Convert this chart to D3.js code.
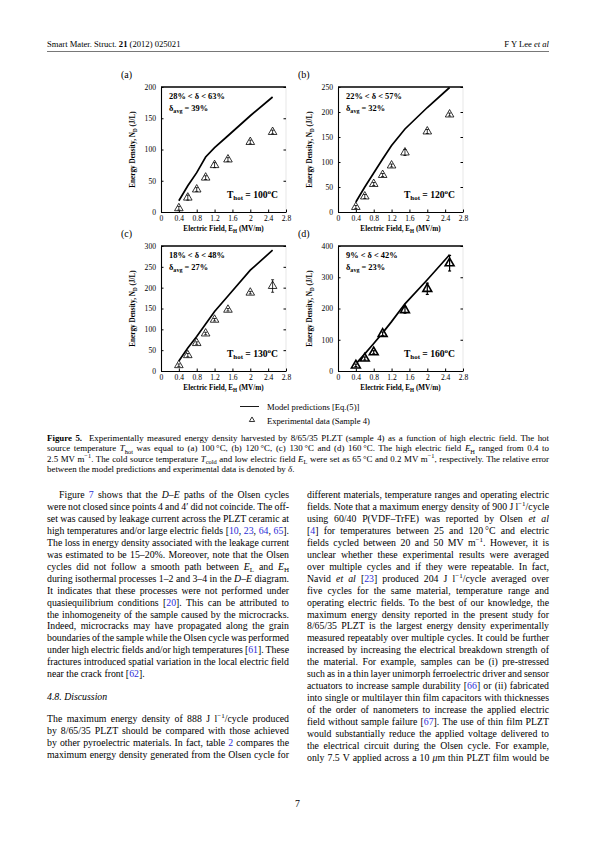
<!DOCTYPE html>
<html>
<head>
<meta charset="utf-8">
<script src="https://cdn.jsdelivr.net/npm/d3@7"></script>
<style>
  html, body { margin: 0; padding: 0; background: #fff; }
  svg { display: block; }
  text { font-family: "Liberation Serif", "Times New Roman", serif; fill: #000; white-space: pre; }
  .axis path, .axis line { stroke: #000; }
</style>
</head>
<body>
<svg width="595" height="842"></svg>
<script>
// electric field values (MV/m) at which the data were taken
var fieldE = [0.4, 0.6, 0.8, 1.0, 1.2, 1.5, 2.0, 2.5];

// model predictions, one array per panel (J/L)
var modelA = [18, 42, 63, 88, 103, 122, 154, 184];
var modelB = [20, 50, 78, 106, 133, 166, 209, 249];
var modelC = [24, 55, 83, 113, 143, 180, 242, 290];
var modelD = [23, 55, 88, 122, 158, 215, 292, 372];

// experimental data (sample 4) and error bars
var expA = [6, 23, 36, 55, 75, 84, 112, 128];
var expB = [10, 31, 56, 74, 93, 119, 161, 195];
var expC = [14, 38, 67, 90, 123, 147, 188, 204];
var expD = [18, 40, 60, 119, null, 195, 263, 345];
var errA = [3, 4, 3, 3, 4, 3, 3, 3];
var errB = [3, 4, 3, 3, 3, 6, 4, 3];
var errC = [3, 4, 3, 3, 3, 3, 3, 15];
var errD = [4, 5, 5, 6, null, 10, 18, 25];

// per panel labels
var panelNames = ["(a)", "(b)", "(c)", "(d)"];
var yMax = [200, 250, 300, 400];
var yStep = [50, 50, 50, 100];
var tHot = [100, 120, 130, 160];
var deltaMin = [28, 22, 18, 9];
var deltaMax = [63, 57, 48, 42];
var deltaAvg = [39, 32, 27, 23];
var xTicks = [0, 0.4, 0.8, 1.2, 1.6, 2, 2.4, 2.8];
var xTickLabels = ["0", "0.4", "0.8", "1.2", "1.6", "2", "2.4", "2.8"];

var models = [modelA, modelB, modelC, modelD];
var exps = [expA, expB, expC, expD];
var errs = [errA, errB, errC, errD];

// page text
var headerLeft = "Smart Mater. Struct. <b>21</b> (2012) 025021";
var headerRight = "F Y Lee <i>et al</i>";

var captionLines = [
  "<b>Figure 5.</b>  Experimentally measured energy density harvested by 8/65/35 PLZT (sample 4) as a function of high electric field. The hot",
  "source temperature <i>T</i><sub>hot</sub> was equal to (a) 100\u2009°C, (b) 120\u2009°C, (c) 130\u2009°C and (d) 160\u2009°C. The high electric field <i>E</i><sub>H</sub> ranged from 0.4 to",
  "2.5 MV m<sup>−1</sup>. The cold source temperature <i>T</i><sub>cold</sub> and low electric field <i>E</i><sub>L</sub> were set as 65\u2009°C and 0.2 MV m<sup>−1</sup>, respectively. The relative error",
  "between the model predictions and experimental data is denoted by <i>δ</i>."
];

var leftCol = [
  "Figure <c>7</c> shows that the <i>D</i>–<i>E</i> paths of the Olsen cycles",
  "were not closed since points 4 and 4′ did not coincide. The off-",
  "set was caused by leakage current across the PLZT ceramic at",
  "high temperatures and/or large electric fields [<c>10</c>, <c>23</c>, <c>64</c>, <c>65</c>].",
  "The loss in energy density associated with the leakage current",
  "was estimated to be 15–20%. Moreover, note that the Olsen",
  "cycles did not follow a smooth path between <i>E</i><sub>L</sub> and <i>E</i><sub>H</sub>",
  "during isothermal processes 1–2 and 3–4 in the <i>D</i>–<i>E</i> diagram.",
  "It indicates that these processes were not performed under",
  "quasiequilibrium conditions [<c>20</c>]. This can be attributed to",
  "the inhomogeneity of the sample caused by the microcracks.",
  "Indeed, microcracks may have propagated along the grain",
  "boundaries of the sample while the Olsen cycle was performed",
  "under high electric fields and/or high temperatures [<c>61</c>]. These",
  "fractures introduced spatial variation in the local electric field",
  "near the crack front [<c>62</c>]."
];
var heading = "<i>4.8. Discussion</i>";
var leftCol2 = [
  "The maximum energy density of 888 J l<sup>−1</sup>/cycle produced",
  "by 8/65/35 PLZT should be compared with those achieved",
  "by other pyroelectric materials. In fact, table <c>2</c> compares the",
  "maximum energy density generated from the Olsen cycle for"
];
var rightCol = [
  "different materials, temperature ranges and operating electric",
  "fields. Note that a maximum energy density of 900 J\u2009l<sup>−1</sup>/cycle",
  "using 60/40 P(VDF–TrFE) was reported by Olsen <i>et al</i>",
  "[<c>4</c>] for temperatures between 25 and 120\u2009°C and electric",
  "fields cycled between 20 and 50 MV m<sup>−1</sup>. However, it is",
  "unclear whether these experimental results were averaged",
  "over multiple cycles and if they were repeatable. In fact,",
  "Navid <i>et al</i> [<c>23</c>] produced 204 J l<sup>−1</sup>/cycle averaged over",
  "five cycles for the same material, temperature range and",
  "operating electric fields. To the best of our knowledge, the",
  "maximum energy density reported in the present study for",
  "8/65/35 PLZT is the largest energy density experimentally",
  "measured repeatably over multiple cycles. It could be further",
  "increased by increasing the electrical breakdown strength of",
  "the material. For example, samples can be (i) pre-stressed",
  "such as in a thin layer unimorph ferroelectric driver and sensor",
  "actuators to increase sample durability [<c>66</c>] or (ii) fabricated",
  "into single or multilayer thin film capacitors with thicknesses",
  "of the order of nanometers to increase the applied electric",
  "field without sample failure [<c>67</c>]. The use of thin film PLZT",
  "would substantially reduce the applied voltage delivered to",
  "the electrical circuit during the Olsen cycle. For example,",
  "only 7.5 V applied across a 10 <i>μ</i>m thin PLZT film would be"
];

// layout
var marginL = 47, marginR = 549;
var colW = 242, colR = marginR - colW;
var lineH = 11.95;
var panelW = 125, panelH = 125;
var panelPos = [[161, 87], [338, 87], [161, 246], [338, 246]];

var svg = d3.select("svg");
svg.append("rect").attr("width", 595).attr("height", 842).attr("fill", "#fff");

// writes a string with tiny markup into a text element as tspans
function rich(textSel, str, size) {
  var parts = str.split(/(<\/?(?:i|b|c|sup|sub)>)/);
  var st = { i: 0, b: 0, c: 0, sup: 0, sub: 0 };
  var off = 0;
  parts.forEach(function(p) {
    if (!p) return;
    var m = p.match(/^<(\/?)(i|b|c|sup|sub)>$/);
    if (m) { st[m[2]] += m[1] ? -1 : 1; return; }
    var target = st.sup ? -size * 0.4 : st.sub ? size * 0.25 : 0;
    textSel.append("tspan")
      .attr("dy", target - off)
      .attr("font-size", (st.sup || st.sub) ? size * 0.72 : size)
      .attr("font-style", st.i ? "italic" : null)
      .attr("font-weight", st.b ? "bold" : null)
      .attr("fill", st.c ? "#2b2bd6" : null)
      .text(p);
    off = target;
  });
  return textSel;
}

function justify(textSel, width) {
  var n = textSel.node();
  var len = n.getComputedTextLength();
  var spaces = (n.textContent.match(/ /g) || []).length;
  if (spaces) textSel.style("word-spacing", ((width - len) / spaces) + "px");
}

function textLine(x, y, str, size, width, anchor) {
  var t = svg.append("text").attr("x", x).attr("y", y).attr("font-size", size);
  if (anchor) t.attr("text-anchor", anchor);
  rich(t, str, size);
  if (width) justify(t, width);
  return t;
}

// header
textLine(marginL, 47, headerLeft, 8.6);
textLine(marginR, 47, headerRight, 8.6, null, "end");
svg.append("line").attr("x1", marginL).attr("x2", marginR)
  .attr("y1", 51.5).attr("y2", 51.5).attr("stroke", "#555").attr("stroke-width", 0.8);

// panels
panelPos.forEach(function(pos, k) {
  var g = svg.append("g").attr("transform", "translate(" + pos[0] + "," + pos[1] + ")");
  var x = d3.scaleLinear().domain([0, 2.8]).range([0, panelW]);
  var y = d3.scaleLinear().domain([0, yMax[k]]).range([panelH, 0]);
  var yTicks = d3.range(0, yMax[k] + 1, yStep[k]);

  // frame: top line and faint right side
  g.append("line").attr("x1", 0).attr("x2", panelW).attr("y1", 0).attr("y2", 0)
    .attr("stroke", "#000").attr("stroke-width", 1.6);
  g.append("line").attr("x1", panelW).attr("x2", panelW).attr("y1", 0).attr("y2", panelH)
    .attr("stroke", "#ccc").attr("stroke-width", 0.5);

  var ax = g.append("g").attr("class", "axis").attr("transform", "translate(0," + panelH + ")")
    .call(d3.axisBottom(x).tickValues(xTicks).tickFormat(function(d, i) { return xTickLabels[i]; })
      .tickSizeInner(-2.5).tickSizeOuter(0).tickPadding(4));
  var ay = g.append("g").attr("class", "axis")
    .call(d3.axisLeft(y).tickValues(yTicks).tickSizeInner(-2.5).tickSizeOuter(0).tickPadding(5));
  g.append("g").attr("class", "axis").attr("transform", "translate(" + panelW + ",0)")
    .call(d3.axisRight(y).tickValues(yTicks).tickFormat("").tickSizeInner(-2.5).tickSizeOuter(0))
    .select(".domain").remove();
  [ax, ay].forEach(function(a) {
    a.selectAll("text").attr("font-size", 7.6).attr("font-family", "Liberation Serif");
    a.select(".domain").attr("stroke-width", 1.1);
  });

  // model line
  g.append("path")
    .datum(fieldE.map(function(e, i) { return [e, models[k][i]]; }))
    .attr("fill", "none").attr("stroke", "#000").attr("stroke-width", 1.7)
    .attr("d", d3.line().x(function(d) { return x(d[0]); }).y(function(d) { return y(d[1]); }));

  // experimental data
  var pts = fieldE.map(function(e, i) { return { e: e, v: exps[k][i], err: errs[k][i] }; })
    .filter(function(d) { return d.v != null; });
  var sw = k === 3 ? 1.6 : 0.8;
  g.selectAll(".tri").data(pts).enter().append("path")
    .attr("class", "tri")
    .attr("transform", function(d) { return "translate(" + x(d.e) + "," + y(d.v) + ")"; })
    .attr("d", d3.symbol().type(d3.symbolTriangle).size(k === 3 ? 34 : 32))
    .attr("fill", "#fff").attr("stroke", "#000").attr("stroke-width", sw);
  var eb = g.selectAll(".err").data(pts).enter().append("g").attr("class", "err")
    .attr("stroke", "#000").attr("stroke-width", k === 3 ? 1.2 : 0.8);
  eb.append("line")
    .attr("x1", function(d) { return x(d.e); }).attr("x2", function(d) { return x(d.e); })
    .attr("y1", function(d) { return y(d.v - d.err); }).attr("y2", function(d) { return y(d.v + d.err); });
  eb.append("line")
    .attr("x1", function(d) { return x(d.e) - 1.5; }).attr("x2", function(d) { return x(d.e) + 1.5; })
    .attr("y1", function(d) { return y(d.v + d.err); }).attr("y2", function(d) { return y(d.v + d.err); });
  eb.append("line")
    .attr("x1", function(d) { return x(d.e) - 1.5; }).attr("x2", function(d) { return x(d.e) + 1.5; })
    .attr("y1", function(d) { return y(d.v - d.err); }).attr("y2", function(d) { return y(d.v - d.err); });

  // annotations
  var t1 = g.append("text").attr("x", 8).attr("y", 12).attr("font-size", 8.4).attr("font-weight", "bold");
  rich(t1, deltaMin[k] + "% < δ < " + deltaMax[k] + "%", 8.4);
  var t2 = g.append("text").attr("x", 8).attr("y", 24).attr("font-size", 8.4).attr("font-weight", "bold");
  rich(t2, "δ<sub>avg</sub> = " + deltaAvg[k] + "%", 8.4);
  var t3 = g.append("text").attr("x", panelW - 8).attr("y", panelH - 14)
    .attr("font-size", 9.6).attr("font-weight", "bold").attr("text-anchor", "end");
  rich(t3, "T<sub>hot</sub> = " + tHot[k] + "<sup>o</sup>C", 9.6);

  // axis titles
  var xl = g.append("text").attr("x", panelW / 2).attr("y", panelH + 19)
    .attr("text-anchor", "middle").attr("font-size", 7.2).attr("font-weight", "bold");
  rich(xl, "Electric Field, E<sub>H</sub> (MV/m)", 7.2);
  var yl = g.append("text").attr("transform", "translate(-26," + panelH / 2 + ") rotate(-90)")
    .attr("text-anchor", "middle").attr("font-size", 7.2).attr("font-weight", "bold");
  rich(yl, "Energy Density, N<sub>D</sub> (J/L)", 7.2);

  g.append("text").attr("x", -40).attr("y", -9).attr("font-size", 10).text(panelNames[k]);
});

// legend
var legX = 240;
svg.append("line").attr("x1", legX).attr("x2", legX + 19).attr("y1", 406.5).attr("y2", 406.5)
  .attr("stroke", "#000").attr("stroke-width", 0.9);
textLine(legX + 27, 409.5, "Model predictions [Eq.(5)]", 8.6);
svg.append("path").attr("transform", "translate(" + (legX + 12) + ",420)")
  .attr("d", d3.symbol().type(d3.symbolTriangle).size(12))
  .attr("fill", "#fff").attr("stroke", "#000").attr("stroke-width", 0.8);
textLine(legX + 27, 423.5, "Experimental data (Sample 4)", 8.6);

// caption
captionLines.forEach(function(s, i) {
  textLine(marginL, 441 + i * 10.4, s, 8.9, i < captionLines.length - 1 ? marginR - marginL : null);
});

// body text, left column
leftCol.forEach(function(s, i) {
  var first = i === 0, last = i === leftCol.length - 1;
  textLine(marginL + (first ? 12 : 0), 498 + i * lineH, s, 9.8,
    last ? null : colW - (first ? 12 : 0));
});
var yH = 498 + (leftCol.length - 1) * lineH + 23;
textLine(marginL, yH, heading, 9.8);
leftCol2.forEach(function(s, i) {
  textLine(marginL, yH + 22 + i * lineH, s, 9.8, colW);
});

// body text, right column
rightCol.forEach(function(s, i) {
  textLine(colR, 498 + i * lineH, s, 9.8, colW);
});

// page number
textLine(297.5, 807, "7", 9.8, null, "middle");
</script>
</body>
</html>
